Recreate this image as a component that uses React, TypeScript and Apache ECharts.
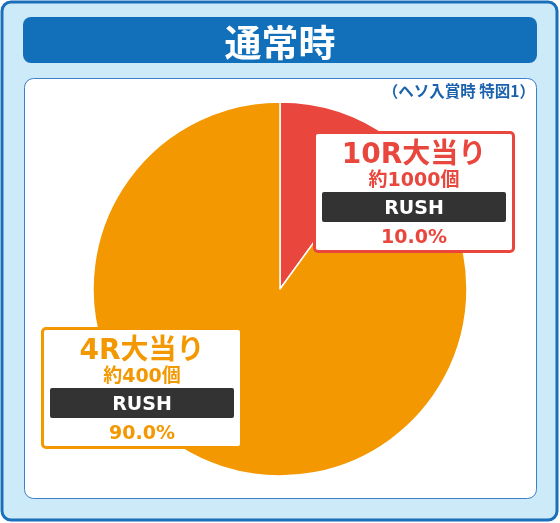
import React, { useEffect, useRef } from "react";
import * as echarts from "echarts";

const categories = ["10R大当り", "4R大当り"];
const payouts = ["約1000個", "約400個"];
const modes = ["RUSH", "RUSH"];
const shares = [10, 90];
const shareLabels = ["10.0%", "90.0%"];
const sliceColors = ["#e9473d", "#f39800"];
const chartTitle = "通常時";
const chartSubtitle = "（ヘソ入賞時 特図1）";

const labelPos = [
  [316, 134],
  [44, 330],
];

const FONT = '"DejaVu Sans", "Noto Sans CJK JP", sans-serif';
const CJK = '"Noto Sans CJK JP", sans-serif';

export default function App() {
  const ref = useRef<HTMLDivElement>(null);
  useEffect(() => {
    document.body.style.margin = "0";
    const chart = echarts.init(ref.current!, null, { renderer: "svg" });
    const rich: any = {};
    sliceColors.forEach((c, i) => {
      rich["t" + i] = { fontFamily: FONT, fontSize: 28, fontWeight: "bold", color: c, lineHeight: 30, width: 184, align: "center" };
      rich["s" + i] = { fontFamily: FONT, fontSize: 19, fontWeight: "bold", color: c, lineHeight: 22, width: 184, align: "center" };
      rich["b" + i] = {
        fontFamily: FONT, fontSize: 19, fontWeight: "bold", color: "#ffffff", backgroundColor: "#333333",
        width: 184, height: 30, lineHeight: 34, borderRadius: 2, align: "center",
      };
      rich["p" + i] = { fontFamily: FONT, fontSize: 19, fontWeight: "bold", color: c, lineHeight: 24, width: 184, align: "center" };
    });
    const data = categories.map((name, i) => ({
      name,
      value: shares[i],
      itemStyle: { color: sliceColors[i] },
      label: {
        show: true,
        position: "outside",
        backgroundColor: "#ffffff",
        borderColor: sliceColors[i],
        borderWidth: 3,
        borderRadius: 2,
        padding: [4, 6, 2, 6],
        formatter: () =>
          `{t${i}|${categories[i]}}\n{s${i}|${payouts[i]}}\n{b${i}|${modes[i]}}\n{p${i}|${shareLabels[i]}}`,
        rich,
      },
      labelLine: { show: false },
    }));
    chart.setOption({
      animation: false,
      graphic: [
        { type: "rect", z: 0, shape: { x: 2, y: 2, width: 555, height: 518, r: 9 }, style: { fill: "#cdeaf8", stroke: "#1a6fba", lineWidth: 3 } },
        { type: "rect", z: 0, shape: { x: 23, y: 17, width: 514, height: 46, r: 8 }, style: { fill: "#1170b9" } },
        { type: "rect", z: 0, shape: { x: 24.5, y: 78.5, width: 512, height: 420, r: 9 }, style: { fill: "#ffffff", stroke: "#3d7fcc", lineWidth: 1 } },
        {
          type: "text", z: 1, x: 280, y: 41,
          style: { text: chartTitle, fill: "#ffffff", font: `bold 37px ${CJK}`, textAlign: "center", textVerticalAlign: "middle" },
        },
        {
          type: "text", z: 1, x: 535, y: 90,
          style: { text: chartSubtitle, fill: "#1a62ad", font: `bold 15.5px ${CJK}`, textAlign: "right", textVerticalAlign: "middle" },
        },
      ],
      series: [
        {
          type: "pie",
          center: [280, 289],
          radius: [0, 187],
          startAngle: 90,
          clockwise: true,
          avoidLabelOverlap: false,
          itemStyle: { borderColor: "#ffffff", borderWidth: 1.5 },
          labelLine: { show: false },
          labelLayout: (p: any) => ({
            x: labelPos[p.dataIndex][0],
            y: labelPos[p.dataIndex][1],
            align: "left",
            verticalAlign: "top",
          }),
          emphasis: { disabled: true },
          data,
        },
      ],
    });
    return () => chart.dispose();
  }, []);
  return <div ref={ref} style={{ position: "fixed", left: 0, top: 0, width: 560, height: 523 }} />;
}
